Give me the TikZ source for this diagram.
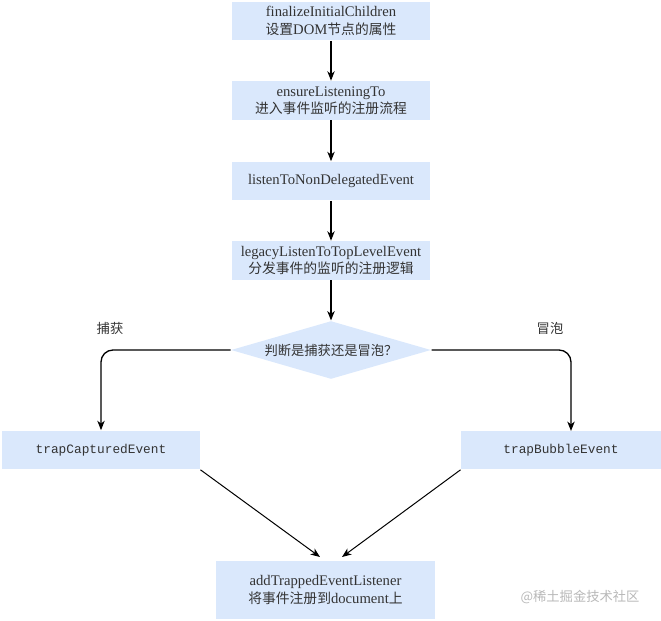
\documentclass[tikz,border=0pt]{standalone}
\usepackage{fontspec}
\setmainfont{Liberation Serif}
\setmonofont{Liberation Mono}
\newfontfamily\cjk[Scale=0.94]{Noto Sans CJK SC}
\usetikzlibrary{arrows.meta,shapes.geometric}

\definecolor{boxblue}{HTML}{DAE8FC}
\definecolor{txtgray}{HTML}{333333}
\definecolor{markgray}{HTML}{B8B8B8}

\tikzset{every picture/.style={line width=0.75pt}}
\tikzset{
  flowbox/.style={fill=boxblue, inner sep=0pt, minimum width=148.5pt, minimum height=29pt, align=center, text=txtgray, font=\fontsize{11}{13}\selectfont},
  codebox/.style={flowbox, font=\fontsize{9.6}{11}\ttfamily},
  decide/.style={diamond, fill=boxblue, inner sep=0pt, aspect=3.45, minimum width=150pt, minimum height=43.5pt, text=txtgray, font=\fontsize{10.6}{12}\cjk},
  flowarrow/.style={-{Stealth[length=7pt,width=5.5pt,inset=2pt]}, line width=1pt},
  sidelabel/.style={text=txtgray, font=\fontsize{10.6}{12}\cjk}
}

\begin{document}
\begin{tikzpicture}[x=0.75pt,y=0.75pt,yscale=-1,xscale=1]
	\useasboundingbox (0,0) rectangle (661,621);

	% Text Node
	\node[flowbox] (init) at (331,21) {finalizeInitialChildren\\{\cjk 设置}DOM{\cjk 节点的属性}};
	% Text Node
	\node[flowbox] (ensure) at (331,100.5) {ensureListeningTo\\{\cjk 进入事件监听的注册流程}};
	% Text Node
	\node[flowbox] (nondel) at (331,181) {listenToNonDelegatedEvent};
	% Text Node
	\node[flowbox] (legacy) at (331,260.5) {legacyListenToTopLevelEvent\\{\cjk 分发事件的监听的注册逻辑}};
	% Decision
	\node[decide] (phase) at (331,350) {判断是捕获还是冒泡？};
	% Text Node
	\node[codebox] (capture) at (101,450) {trapCapturedEvent};
	% Text Node
	\node[codebox, minimum width=150pt] (bubble) at (561,450) {trapBubbleEvent};
	% Text Node
	\node[flowbox, minimum width=164pt, minimum height=43pt] (addlsn) at (325.5,590) {addTrappedEventListener\\{\cjk 将事件注册到}document{\cjk 上}};

	% branch labels
	\node[sidelabel] (lblcap) at (110,328) {捕获};
	\node[sidelabel] (lblbub) at (550,328) {冒泡};

	\coordinate (bubtop) at (571,431);
	\coordinate (capin) at (320,557);
	\coordinate (bubin) at (342,557);

	% main chain
	\draw[flowarrow] (init) -- (ensure);
	\draw[flowarrow] (ensure) -- (nondel);
	\draw[flowarrow] (nondel) -- (legacy);
	\draw[flowarrow] (legacy) -- (phase);
	% branches
	\draw[flowarrow, rounded corners=9pt] (phase.west) -| (capture.north);
	\draw[flowarrow, rounded corners=9pt] (phase.east) -| (bubtop);
	\draw[flowarrow, line width=0.75pt] (capture.south east) -- (capin);
	\draw[flowarrow, line width=0.75pt] (bubble.south west) -- (bubin);

	% watermark
	\node[text=markgray, font=\fontsize{10.6}{12}\cjk] (mark) at (580,597) {@稀土掘金技术社区};

\end{tikzpicture}
\end{document}
